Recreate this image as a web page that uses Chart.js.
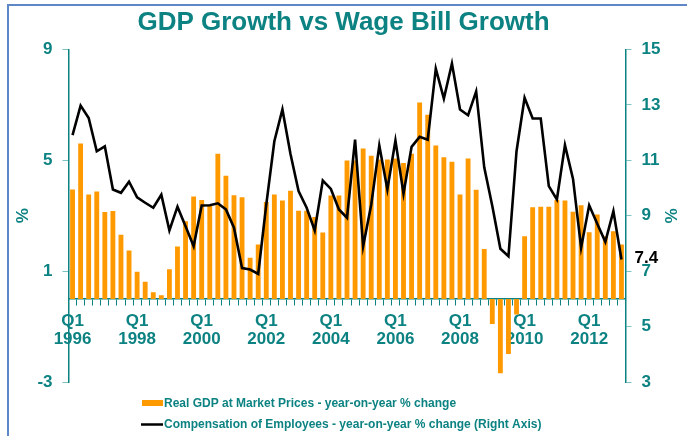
<!DOCTYPE html>
<html>
<head>
<meta charset="utf-8">
<script src="https://cdn.jsdelivr.net/npm/chart.js@4.4.1/dist/chart.umd.min.js"></script>
<style>
html, body { margin: 0; padding: 0; background: #fff; }
#wrap { width: 687px; height: 436px; position: relative; }
</style>
</head>
<body>
<div id="wrap"><canvas id="graph1" width="687" height="436"></canvas></div>
<script>
// quarterly, Q1 1996 .. Q1 2013
var years = [1996, 1997, 1998, 1999, 2000, 2001, 2002, 2003, 2004, 2005, 2006, 2007, 2008, 2009, 2010, 2011, 2012, 2013];
var quarters = [];
years.forEach(function (y) {
    ['Q1', 'Q2', 'Q3', 'Q4'].forEach(function (q) {
        if (y < 2013 || q == 'Q1') quarters.push(q + ' ' + y);
    });
});

var tickYears = ['1996', '1998', '2000', '2002', '2004', '2006', '2008', '2010', '2012'];

// Real GDP at market prices, yoy % (left axis)
var gdpGrowth = [
    3.95, 5.61, 3.77, 3.88, 3.14, 3.17, 2.32, 1.75, 0.98, 0.62, 0.24, 0.13,
    1.07, 1.89, 2.80, 3.70, 3.57, 3.35, 5.24, 4.45, 3.74, 3.67, 1.49, 1.96,
    3.50, 3.77, 3.55, 3.90, 3.18, 3.18, 2.96, 2.40, 3.73, 3.73, 5.00, 5.00,
    5.43, 5.17, 5.03, 5.03, 5.07, 4.91, 5.24, 7.09, 6.65, 5.54, 5.11, 4.95,
    3.77, 5.07, 3.94, 1.80, -0.91, -2.68, -1.99, -0.56, 2.26, 3.31, 3.33, 3.33,
    3.57, 3.55, 3.15, 3.38, 2.41, 3.05, 2.26, 2.44, 1.96
];

// Compensation of employees, yoy % (right axis)
var wageGrowth = [
    11.91, 12.98, 12.53, 11.33, 11.51, 9.95, 9.83, 10.23, 9.67, 9.47, 9.29, 9.76,
    8.47, 9.33, 8.62, 7.90, 9.37, 9.38, 9.45, 9.23, 8.57, 7.11, 7.06, 6.90,
    9.40, 11.69, 12.84, 11.23, 9.89, 9.29, 8.47, 10.27, 9.97, 9.23, 8.93, 11.75,
    7.90, 9.40, 11.54, 9.95, 11.72, 9.80, 11.49, 11.85, 11.75, 14.31, 13.23, 14.50,
    12.84, 12.63, 13.49, 10.75, 9.35, 7.81, 7.54, 11.33, 13.26, 12.51, 12.51, 10.07,
    9.59, 11.55, 10.33, 7.85, 9.38, 8.71, 8.06, 9.17, 7.42
];

var teal = '#0d8282';
var tealLight = '#7cc3c3';
var font = "'Liberation Sans', Arial, sans-serif";

// frame, end value and legend drawn on the canvas
var extras = {
    id: 'extras',
    beforeDraw: function (chart) {
        var c = chart.ctx;
        c.save();
        c.fillStyle = '#5d87c6';
        c.fillRect(7, 4, 680, 2);
        c.fillRect(7, 4, 2, 432);
        c.restore();
    },
    afterDraw: function (chart) {
        var c = chart.ctx;
        var meta = chart.getDatasetMeta(1);
        var last = meta.data[meta.data.length - 1];
        c.save();
        c.fillStyle = '#000';
        c.font = 'bold 17px ' + font;
        c.textAlign = 'left';
        c.textBaseline = 'middle';
        c.fillText(wageGrowth[wageGrowth.length - 1].toFixed(1), last.x + 13, last.y - 1);

        // legend
        c.font = 'bold 12px ' + font;
        c.fillStyle = '#ff9900';
        c.fillRect(142, 400, 21, 6);
        c.fillStyle = teal;
        c.fillText(chart.data.datasets[0].label, 164, 403.5);
        c.strokeStyle = '#000';
        c.lineWidth = 2.5;
        c.beginPath();
        c.moveTo(141, 424.5);
        c.lineTo(163, 424.5);
        c.stroke();
        c.fillStyle = teal;
        c.fillText(chart.data.datasets[1].label, 164, 425);
        c.restore();
    }
};

var ctx = document.getElementById('graph1').getContext('2d');

var config = {
    type: 'bar',
    data: {
        labels: quarters,
        datasets: [
            {
                type: 'bar',
                label: 'Real GDP at Market Prices - year-on-year % change',
                data: gdpGrowth,
                backgroundColor: '#ff9900',
                yAxisID: 'y',
                barPercentage: 0.6,
                categoryPercentage: 1,
                order: 1
            },
            {
                type: 'line',
                label: 'Compensation of Employees - year-on-year % change (Right Axis)',
                data: wageGrowth,
                borderColor: '#000',
                borderWidth: 2.6,
                pointRadius: 0,
                tension: 0,
                yAxisID: 'y1',
                order: 0
            }
        ]
    },
    options: {
        responsive: false,
        animation: false,
        layout: { padding: { top: 0, bottom: 54, left: 0, right: 0 } },
        plugins: {
            legend: { display: false },
            tooltip: { enabled: false },
            title: {
                display: true,
                text: 'GDP Growth vs Wage Bill Growth',
                color: teal,
                font: { family: font, size: 26, weight: 'bold', lineHeight: 1.2 },
                padding: { top: 7, bottom: 11.4 }
            }
        },
        scales: {
            x: {
                position: { y: 0 },
                grid: {
                    drawOnChartArea: false,
                    offset: true,
                    tickLength: 6,
                    color: teal
                },
                border: { color: teal, width: 1.5 },
                ticks: {
                    autoSkip: false,
                    maxRotation: 0,
                    padding: 7,
                    color: teal,
                    font: { family: font, size: 17, weight: 'bold', lineHeight: 1.08 },
                    callback: function (v) {
                        var lab = this.getLabelForValue(v).split(' ');
                        if (lab[0] == 'Q1' && tickYears.indexOf(lab[1]) >= 0) return ['Q1', lab[1]];
                        return '';
                    }
                }
            },
            y: {
                position: 'left',
                min: -3,
                max: 9,
                afterFit: function (s) { s.width = 68.5; },
                grid: { drawOnChartArea: false, tickLength: 6, color: tealLight },
                border: { color: teal, width: 1.5 },
                ticks: {
                    stepSize: 4,
                    padding: 10,
                    color: teal,
                    font: { family: font, size: 17, weight: 'bold' }
                },
                title: {
                    display: true,
                    text: '%',
                    color: teal,
                    padding: 13,
                    font: { family: font, size: 17, weight: 'bold' }
                }
            },
            y1: {
                position: 'right',
                min: 3,
                max: 15,
                afterFit: function (s) { s.width = 61.5; },
                grid: { drawOnChartArea: false, tickLength: 6, color: tealLight },
                border: { color: teal, width: 1.5 },
                ticks: {
                    stepSize: 2,
                    padding: 10,
                    color: teal,
                    font: { family: font, size: 17, weight: 'bold' }
                },
                title: {
                    display: true,
                    text: '%',
                    color: teal,
                    padding: 7,
                    font: { family: font, size: 17, weight: 'bold' }
                }
            }
        }
    },
    plugins: [extras]
};

var graph1 = new Chart(ctx, config);
</script>
</body>
</html>
